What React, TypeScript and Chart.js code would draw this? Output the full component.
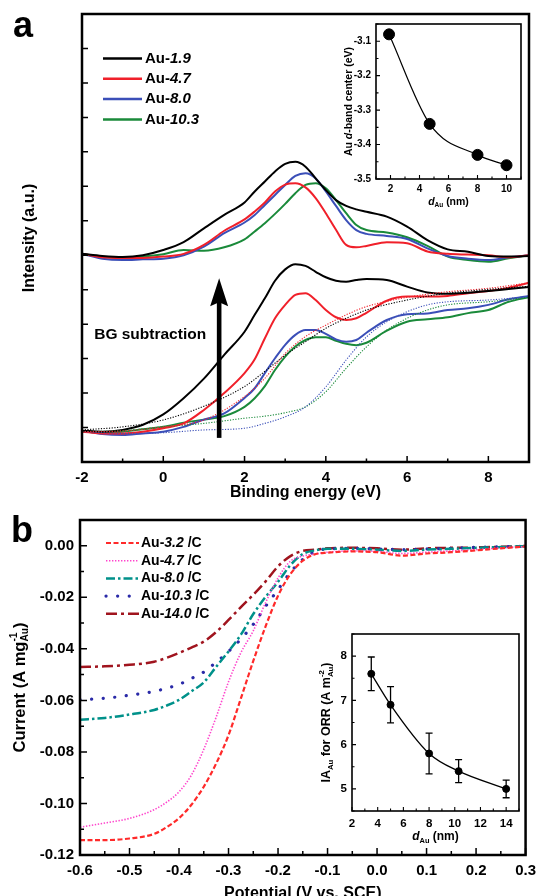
import React, { useEffect, useRef } from 'react';
import { Chart, registerables } from 'chart.js';
Chart.register(...registerables);

const FAMILY = '"Liberation Sans", Arial, Helvetica, sans-serif';

// ---------------- Panel a : XPS valence band ----------------
const XA = [-2, -1.5, -1, -0.5, 0, 0.5, 1, 1.5, 2, 2.25, 2.5, 2.75, 3, 3.25, 3.5, 3.75, 4, 4.25, 4.5, 4.75, 5, 5.5, 6, 6.5, 7, 7.5, 8, 8.5, 9];
const RAW_19 = [6.04, 5.98, 5.95, 6.0, 6.15, 6.38, 6.78, 7.17, 7.53, 7.85, 8.14, 8.43, 8.65, 8.71, 8.57, 8.23, 7.89, 7.6, 7.43, 7.33, 7.26, 7.12, 6.83, 6.44, 6.17, 6.1, 5.98, 5.96, 5.98];
const RAW_47 = [6.04, 5.94, 5.92, 5.92, 5.96, 6.04, 6.3, 6.71, 7.04, 7.27, 7.53, 7.85, 8.05, 8.09, 7.97, 7.66, 7.22, 6.74, 6.3, 6.23, 6.27, 6.38, 6.35, 6.11, 6.04, 6.02, 6.0, 5.94, 6.0];
const RAW_80 = [6.04, 5.9, 5.86, 5.88, 5.9, 6.0, 6.25, 6.64, 6.95, 7.17, 7.46, 7.75, 8.04, 8.3, 8.38, 8.23, 7.85, 7.43, 7.02, 6.73, 6.62, 6.56, 6.47, 6.2, 5.98, 5.9, 5.86, 5.94, 6.0];
const RAW_103 = [6.04, 5.95, 5.93, 5.96, 6.03, 6.15, 6.13, 6.23, 6.46, 6.69, 6.93, 7.2, 7.49, 7.8, 8.04, 8.09, 7.94, 7.6, 7.22, 6.88, 6.73, 6.66, 6.52, 6.27, 5.96, 5.86, 5.81, 5.91, 6.0];

const SUB_19 = [0.91, 0.88, 0.93, 1.08, 1.38, 1.85, 2.42, 3.11, 3.78, 4.27, 4.75, 5.26, 5.59, 5.74, 5.69, 5.52, 5.36, 5.26, 5.23, 5.28, 5.31, 5.28, 5.09, 4.92, 4.88, 4.91, 4.96, 5.02, 5.08];
const SUB_47 = [0.88, 0.83, 0.83, 0.88, 0.98, 1.12, 1.51, 2.0, 2.58, 2.98, 3.59, 4.17, 4.56, 4.85, 4.9, 4.7, 4.41, 4.2, 4.12, 4.17, 4.33, 4.68, 4.8, 4.8, 4.82, 4.9, 4.96, 5.06, 5.2];
const SUB_80 = [0.91, 0.81, 0.78, 0.83, 0.88, 1.02, 1.23, 1.41, 1.86, 2.14, 2.58, 3.01, 3.4, 3.69, 3.83, 3.83, 3.72, 3.56, 3.49, 3.54, 3.75, 4.12, 4.29, 4.31, 4.41, 4.46, 4.56, 4.72, 4.82];
const SUB_103 = [0.88, 0.85, 0.88, 0.95, 1.02, 1.14, 1.23, 1.33, 1.6, 1.85, 2.2, 2.67, 3.06, 3.35, 3.54, 3.62, 3.62, 3.52, 3.43, 3.39, 3.46, 3.81, 4.07, 4.14, 4.2, 4.32, 4.41, 4.65, 4.78];

const XBG = [-2, -1, 0, 1, 2, 2.5, 3, 3.5, 4, 4.5, 5, 5.5, 6, 6.5, 7, 8, 9];
const BG_19 = [0.93, 1.02, 1.22, 1.62, 2.19, 2.63, 3.1, 3.49, 3.88, 4.17, 4.41, 4.57, 4.7, 4.81, 4.9, 5.01, 5.1];
const BG_47 = [0.88, 0.9, 1.02, 1.22, 1.9, 2.43, 3.15, 3.64, 3.97, 4.27, 4.51, 4.66, 4.78, 4.87, 4.94, 5.04, 5.2];
const BG_80 = [0.88, 0.83, 0.85, 0.93, 0.98, 1.12, 1.31, 1.6, 2.18, 2.96, 3.63, 4.07, 4.36, 4.56, 4.65, 4.7, 4.8];
const BG_103 = [0.88, 0.91, 1.02, 1.12, 1.27, 1.33, 1.43, 1.6, 2.04, 2.72, 3.34, 3.83, 4.17, 4.41, 4.56, 4.65, 4.78];

const LABELS_A = ['1.9', '4.7', '8.0', '10.3'];
const COLORS_A = ['#000000', '#f0202a', '#3b4fb8', '#1a8a3a'];

const ARROW_X = 1.375;
const ARROW_FROM = 0.7;
const ARROW_TO = 5.33;
const BG_TEXT_X = -1.7;
const BG_TEXT_Y = 3.69;

// inset a
const D_AU_A = [1.9, 4.7, 8.0, 10.0];
const DBAND = [-3.08, -3.34, -3.43, -3.46];

// ---------------- Panel b : ORR polarisation ----------------
const XB = [-0.6, -0.55, -0.5, -0.45, -0.425, -0.4, -0.375, -0.35, -0.325, -0.3, -0.275, -0.25, -0.225, -0.2, -0.175, -0.15, -0.125, -0.1, -0.05, 0, 0.05, 0.1, 0.15, 0.2, 0.25, 0.3];
const ORR_32 = [-0.1142, -0.1142, -0.1136, -0.1118, -0.1092, -0.1057, -0.1005, -0.0935, -0.0845, -0.0735, -0.0592, -0.0447, -0.0312, -0.0194, -0.011, -0.0058, -0.0033, -0.0027, -0.0022, -0.0025, -0.0038, -0.003, -0.0025, -0.0018, -0.001, -0.0003];
const ORR_47 = [-0.1092, -0.1076, -0.1058, -0.1024, -0.0995, -0.0955, -0.089, -0.079, -0.0665, -0.0528, -0.0415, -0.033, -0.022, -0.0125, -0.006, -0.004, -0.0032, -0.0025, -0.002, -0.0022, -0.003, -0.0025, -0.002, -0.0015, -0.0008, -0.0003];
const ORR_80 = [-0.0675, -0.0668, -0.0655, -0.0637, -0.062, -0.0598, -0.0565, -0.053, -0.047, -0.041, -0.0345, -0.0265, -0.0198, -0.014, -0.0075, -0.0032, -0.0018, -0.0012, -0.0012, -0.0015, -0.002, -0.0015, -0.0012, -0.0008, -0.0005, -0.0002];
const ORR_103 = [-0.0597, -0.0592, -0.058, -0.0565, -0.0553, -0.0538, -0.0515, -0.049, -0.0452, -0.041, -0.0362, -0.0305, -0.0235, -0.017, -0.0103, -0.0053, -0.0022, -0.0012, -0.001, -0.0012, -0.0015, -0.0012, -0.001, -0.0006, -0.0004, -0.0002];
const ORR_140 = [-0.047, -0.0468, -0.0462, -0.045, -0.0435, -0.0416, -0.0395, -0.0372, -0.0335, -0.0288, -0.0238, -0.019, -0.0138, -0.008, -0.004, -0.002, -0.0015, -0.001, -0.0008, -0.001, -0.0015, -0.001, -0.0008, -0.0006, -0.0004, -0.0001];

const LABELS_B = ['3.2', '4.7', '8.0', '10.3', '14.0'];
const COLORS_B = ['#ff2a2a', '#ff44cc', '#00918a', '#2a2aa8', '#a0141e'];
const DASH_B = [[5, 2.5], [1.4, 1.6], [9, 3, 2.5, 3], [0.1, 11.5], [11, 4, 3, 4]];
const WIDTH_B = [2.2, 1.6, 2.5, 3.2, 2.5];
const CAP_B = ['butt', 'butt', 'butt', 'round', 'butt'];

// inset b
const D_AU_B = [3.5, 5.0, 8.0, 10.3, 14.0];
const IA = [7.6, 6.9, 5.8, 5.4, 5.0];
const IA_ERR = [0.38, 0.41, 0.46, 0.26, 0.2];

// ---------------- helpers ----------------
type Seg = { t: string; i?: boolean; sub?: boolean; sup?: boolean; stack?: boolean };

function fontStr(size: number, italic?: boolean) {
  return `${italic ? 'italic ' : ''}bold ${size}px ${FAMILY}`;
}
function segSize(s: Seg, size: number) {
  return s.sub || s.sup ? size * 0.62 : size;
}
function richWidth(ctx: CanvasRenderingContext2D, segs: Seg[], size: number) {
  let w = 0;
  for (const s of segs) {
    if (s.stack) continue;
    ctx.font = fontStr(segSize(s, size), s.i);
    w += ctx.measureText(s.t).width;
  }
  return w;
}
function drawRich(ctx: CanvasRenderingContext2D, segs: Seg[], x: number, y: number, size: number, align: 'left' | 'center', rotate = false) {
  ctx.save();
  ctx.translate(x, y);
  if (rotate) ctx.rotate(-Math.PI / 2);
  ctx.fillStyle = '#000';
  ctx.textAlign = 'left';
  ctx.textBaseline = 'middle';
  let cx = align === 'center' ? -richWidth(ctx, segs, size) / 2 : 0;
  for (const s of segs) {
    ctx.font = fontStr(segSize(s, size), s.i);
    const dy = s.sub ? size * 0.32 : s.sup ? -size * 0.38 : 0;
    ctx.fillText(s.t, cx, dy);
    if (!s.stack) cx += ctx.measureText(s.t).width;
  }
  ctx.restore();
}

type TickSpec = { major: number; minor: number; isMajor: (v: number) => boolean };
function drawFrame(chart: any, lw: number, tw: number, xs: TickSpec, ys: TickSpec) {
  const { ctx, chartArea: a } = chart;
  const sx = chart.scales.x;
  const sy = chart.scales.y;
  ctx.save();
  ctx.strokeStyle = '#000';
  ctx.lineWidth = tw;
  ctx.beginPath();
  sx.ticks.forEach((t: any) => {
    const p = sx.getPixelForValue(t.value);
    const L = xs.isMajor(t.value) ? xs.major : xs.minor;
    ctx.moveTo(p, a.bottom);
    ctx.lineTo(p, a.bottom - L);
  });
  sy.ticks.forEach((t: any) => {
    const p = sy.getPixelForValue(t.value);
    const L = ys.isMajor(t.value) ? ys.major : ys.minor;
    ctx.moveTo(a.left, p);
    ctx.lineTo(a.left + L, p);
  });
  ctx.stroke();
  ctx.lineWidth = lw;
  ctx.strokeRect(a.left, a.top, a.right - a.left, a.bottom - a.top);
  ctx.restore();
}

function axis(min: number, max: number, step: number, size: number, pad: number, fmt: (v: number) => string, fix: (s: any) => void, show = true) {
  return {
    type: 'linear' as const,
    min,
    max,
    border: { display: false },
    grid: { display: false, drawTicks: false },
    ticks: {
      stepSize: step,
      autoSkip: false,
      maxRotation: 0,
      minRotation: 0,
      padding: pad,
      display: show,
      color: '#000',
      font: { family: FAMILY, size, weight: 'bold' as const },
      callback: (v: any) => fmt(Number(v)),
    },
    afterFit: fix,
  };
}

const pts = (xs: number[], ys: number[]) => xs.map((x, i) => ({ x, y: ys[i] }));
const even = (v: number) => Math.abs(Math.round(v)) % 2 === 0;

const baseOpts = {
  animation: false as const,
  responsive: false,
  maintainAspectRatio: false,
  events: [] as any[],
  plugins: { legend: { display: false }, tooltip: { enabled: false } },
};

function panelLetter(ctx: CanvasRenderingContext2D, t: string, x: number, y: number) {
  ctx.save();
  ctx.font = `bold 36px ${FAMILY}`;
  ctx.fillStyle = '#000';
  ctx.textBaseline = 'alphabetic';
  ctx.fillText(t, x, y);
  ctx.restore();
}

// ---------------- configs ----------------
function configA(): any {
  const datasets: any[] = [];
  [BG_19, BG_47, BG_80, BG_103].forEach((ys, i) =>
    datasets.push({ data: pts(XBG, ys), borderColor: COLORS_A[i], borderWidth: 1.1, borderDash: [1.2, 1.5], pointRadius: 0, cubicInterpolationMode: 'monotone' })
  );
  [SUB_19, SUB_47, SUB_80, SUB_103].forEach((ys, i) =>
    datasets.push({ data: pts(XA, ys), borderColor: COLORS_A[i], borderWidth: 2, pointRadius: 0, cubicInterpolationMode: 'monotone' })
  );
  [RAW_19, RAW_47, RAW_80, RAW_103].forEach((ys, i) =>
    datasets.push({ label: LABELS_A[i], data: pts(XA, ys), borderColor: COLORS_A[i], borderWidth: 2, pointRadius: 0, cubicInterpolationMode: 'monotone' })
  );
  const plugin = {
    id: 'panelA',
    afterDatasetsDraw(chart: any) {
      const ctx: CanvasRenderingContext2D = chart.ctx;
      const a = chart.chartArea;
      const sx = chart.scales.x;
      const sy = chart.scales.y;
      drawFrame(chart, 2.5, 1.5, { major: 6, minor: 3.5, isMajor: even }, { major: 6, minor: 6, isMajor: () => true });
      // arrow
      const ax = sx.getPixelForValue(ARROW_X);
      const y0 = sy.getPixelForValue(ARROW_FROM);
      const y1 = sy.getPixelForValue(ARROW_TO);
      ctx.save();
      ctx.fillStyle = '#000';
      ctx.fillRect(ax - 2.3, y1 + 20, 4.6, y0 - y1 - 20);
      ctx.beginPath();
      ctx.moveTo(ax, y1);
      ctx.lineTo(ax + 9, y1 + 28);
      ctx.lineTo(ax, y1 + 24);
      ctx.lineTo(ax - 9, y1 + 28);
      ctx.closePath();
      ctx.fill();
      ctx.restore();
      drawRich(ctx, [{ t: 'BG subtraction' }], sx.getPixelForValue(BG_TEXT_X), sy.getPixelForValue(BG_TEXT_Y), 15.5, 'left');
      // legend
      const rows = chart.data.datasets.filter((d: any) => d.label);
      rows.forEach((d: any, i: number) => {
        const y = 58.5 + i * 20.3;
        ctx.save();
        ctx.strokeStyle = d.borderColor;
        ctx.lineWidth = 2.5;
        ctx.beginPath();
        ctx.moveTo(103, y);
        ctx.lineTo(142, y);
        ctx.stroke();
        ctx.restore();
        drawRich(ctx, [{ t: 'Au-' }, { t: d.label, i: true }], 145, y, 15, 'left');
      });
      // titles
      drawRich(ctx, [{ t: 'Intensity (a.u.)' }], 30, (a.top + a.bottom) / 2, 16, 'center', true);
      drawRich(ctx, [{ t: 'Binding energy (eV)' }], (a.left + a.right) / 2, 493, 16, 'center');
      panelLetter(ctx, 'a', 13, 37);
    },
  };
  return {
    type: 'line',
    data: { datasets },
    options: {
      ...baseOpts,
      layout: { padding: { left: 0, right: 14, top: 14, bottom: 0 } },
      scales: {
        x: axis(-2, 9, 1, 15, 7, (v) => (even(v) ? String(Math.round(v)) : ''), (s: any) => { s.height = 43; }),
        y: axis(0, 13, 1, 15, 4, () => '', (s: any) => { s.width = 82; }, false),
      },
    },
    plugins: [plugin],
  };
}

function configInsetA(): any {
  const plugin = {
    id: 'insetA',
    afterDatasetsDraw(chart: any) {
      const ctx = chart.ctx;
      const a = chart.chartArea;
      drawFrame(chart, 1.6, 1.1, { major: 4, minor: 2.5, isMajor: even }, { major: 4, minor: 2.5, isMajor: (v) => Math.abs(Math.round(v * 100)) % 10 === 0 });
      drawRich(ctx, [{ t: 'Au ' }, { t: 'd', i: true }, { t: '-band center (eV)' }], 19, (a.top + a.bottom) / 2, 10.5, 'center', true);
      drawRich(ctx, [{ t: 'd', i: true }, { t: 'Au', sub: true }, { t: ' (nm)' }], (a.left + a.right) / 2, 190, 10.5, 'center');
    },
  };
  return {
    type: 'line',
    data: {
      datasets: [
        { data: pts(D_AU_A, DBAND), borderColor: '#000', borderWidth: 1.2, pointRadius: 0, cubicInterpolationMode: 'monotone' },
        { data: pts(D_AU_A, DBAND), showLine: false, pointRadius: 5.5, pointBackgroundColor: '#000', pointBorderColor: '#000' },
      ],
    },
    options: {
      ...baseOpts,
      layout: { padding: { left: 0, right: 9, top: 12, bottom: 0 } },
      scales: {
        x: axis(1, 11, 1, 10, 4, (v) => (even(v) ? String(Math.round(v)) : ''), (s: any) => { s.height = 33; }),
        y: axis(-3.5, -3.05, 0.05, 10, 5, (v) => (Math.abs(Math.round(v * 100)) % 10 === 0 ? v.toFixed(1) : ''), (s: any) => { s.width = 46; }),
      },
    },
    plugins: [plugin],
  };
}

function configB(): any {
  const series = [ORR_32, ORR_47, ORR_80, ORR_103, ORR_140];
  const datasets = series.map((ys, i) => ({
    label: LABELS_B[i],
    data: pts(XB, ys),
    borderColor: COLORS_B[i],
    borderWidth: WIDTH_B[i],
    borderDash: DASH_B[i],
    borderCapStyle: CAP_B[i],
    pointRadius: 0,
    cubicInterpolationMode: 'monotone',
  }));
  const plugin = {
    id: 'panelB',
    afterDatasetsDraw(chart: any) {
      const ctx: CanvasRenderingContext2D = chart.ctx;
      const a = chart.chartArea;
      drawFrame(
        chart, 2.5, 1.5,
        { major: 7, minor: 4, isMajor: (v) => Math.abs(Math.round(v * 20)) % 2 === 0 },
        { major: 7, minor: 4, isMajor: (v) => Math.abs(Math.round(v * 100)) % 2 === 0 }
      );
      chart.data.datasets.forEach((d: any, i: number) => {
        const y = 43 + i * 17.7;
        ctx.save();
        ctx.strokeStyle = d.borderColor;
        ctx.lineWidth = d.borderWidth;
        ctx.lineCap = d.borderCapStyle;
        ctx.setLineDash(d.borderDash);
        ctx.beginPath();
        ctx.moveTo(106, y);
        ctx.lineTo(139, y);
        ctx.stroke();
        ctx.restore();
        drawRich(ctx, [{ t: 'Au-' }, { t: d.label, i: true }, { t: ' /C' }], 141, y, 14, 'left');
      });
      drawRich(ctx, [{ t: 'Current (A mg' }, { t: '-1', sup: true, stack: true }, { t: 'Au', sub: true }, { t: ')' }], 20, (a.top + a.bottom) / 2, 16.5, 'center', true);
      drawRich(ctx, [{ t: 'Potential (V vs. SCE)' }], (a.left + a.right) / 2, 394, 16, 'center');
      panelLetter(ctx, 'b', 11, 42);
    },
  };
  return {
    type: 'line',
    data: { datasets },
    options: {
      ...baseOpts,
      layout: { padding: { left: 0, right: 13, top: 20, bottom: 0 } },
      scales: {
        x: axis(-0.6, 0.3, 0.05, 15, 7, (v) => (Math.abs(Math.round(v * 20)) % 2 === 0 ? (Math.round(v * 10) / 10).toFixed(1) : ''), (s: any) => { s.height = 41; }),
        y: axis(-0.12, 0.01, 0.01, 15, 6, (v) => (Math.abs(Math.round(v * 100)) % 2 === 0 ? (Math.round(v * 100) / 100).toFixed(2) : ''), (s: any) => { s.width = 80; }),
      },
    },
    plugins: [plugin],
  };
}

function configInsetB(): any {
  const plugin = {
    id: 'insetB',
    afterDatasetsDraw(chart: any) {
      const ctx: CanvasRenderingContext2D = chart.ctx;
      const a = chart.chartArea;
      const sx = chart.scales.x;
      const sy = chart.scales.y;
      ctx.save();
      ctx.strokeStyle = '#000';
      ctx.lineWidth = 1.3;
      ctx.beginPath();
      D_AU_B.forEach((d, i) => {
        const px = sx.getPixelForValue(d);
        const t = sy.getPixelForValue(IA[i] + IA_ERR[i]);
        const b = sy.getPixelForValue(IA[i] - IA_ERR[i]);
        ctx.moveTo(px, t);
        ctx.lineTo(px, b);
        ctx.moveTo(px - 3.5, t);
        ctx.lineTo(px + 3.5, t);
        ctx.moveTo(px - 3.5, b);
        ctx.lineTo(px + 3.5, b);
      });
      ctx.stroke();
      ctx.restore();
      drawFrame(chart, 1.6, 1.1, { major: 4, minor: 2.5, isMajor: even }, { major: 4, minor: 2.5, isMajor: (v) => Math.abs(Math.round(v * 2)) % 2 === 0 });
      drawRich(ctx, [{ t: 'IA' }, { t: 'Au', sub: true }, { t: ' for ORR (A m' }, { t: '-2', sup: true, stack: true }, { t: 'Au', sub: true }, { t: ')' }], 27, (a.top + a.bottom) / 2, 12.5, 'center', true);
      drawRich(ctx, [{ t: 'd', i: true }, { t: 'Au', sub: true }, { t: ' (nm)' }], (a.left + a.right) / 2, 217, 12, 'center');
    },
  };
  return {
    type: 'line',
    data: {
      datasets: [
        { data: pts(D_AU_B, IA), borderColor: '#000', borderWidth: 1.3, pointRadius: 0, cubicInterpolationMode: 'monotone' },
        { data: pts(D_AU_B, IA), showLine: false, pointRadius: 3.5, pointBackgroundColor: '#000', pointBorderColor: '#000' },
      ],
    },
    options: {
      ...baseOpts,
      layout: { padding: { left: 0, right: 5, top: 14, bottom: 0 } },
      scales: {
        x: axis(2, 15, 1, 11.5, 6, (v) => (even(v) && v < 15 ? String(Math.round(v)) : ''), (s: any) => { s.height = 44; }),
        y: axis(4.5, 8.5, 0.5, 11.5, 5, (v) => (Math.abs(Math.round(v * 2)) % 2 === 0 ? String(Math.round(v)) : ''), (s: any) => { s.width = 52; }),
      },
    },
    plugins: [plugin],
  };
}

export default function App() {
  const aRef = useRef<HTMLCanvasElement>(null);
  const iaRef = useRef<HTMLCanvasElement>(null);
  const bRef = useRef<HTMLCanvasElement>(null);
  const ibRef = useRef<HTMLCanvasElement>(null);

  useEffect(() => {
    const charts = [
      new Chart(aRef.current as HTMLCanvasElement, configA()),
      new Chart(iaRef.current as HTMLCanvasElement, configInsetA()),
      new Chart(bRef.current as HTMLCanvasElement, configB()),
      new Chart(ibRef.current as HTMLCanvasElement, configInsetB()),
    ];
    return () => charts.forEach((c) => c.destroy());
  }, []);

  const abs = (left: number, top: number, w: number, h: number): React.CSSProperties => ({
    position: 'absolute', left, top, width: w, height: h, display: 'block',
  });

  return (
    <div style={{ position: 'absolute', left: 0, top: 0, width: 543, height: 896, background: '#fff', overflow: 'hidden' }}>
      <canvas ref={aRef} width={543} height={505} style={abs(0, 0, 543, 505)} />
      <canvas ref={bRef} width={543} height={396} style={abs(0, 500, 543, 396)} />
      <canvas ref={iaRef} width={200} height={200} style={abs(330, 12, 200, 200)} />
      <canvas ref={ibRef} width={225} height={235} style={abs(300, 620, 225, 235)} />
    </div>
  );
}
